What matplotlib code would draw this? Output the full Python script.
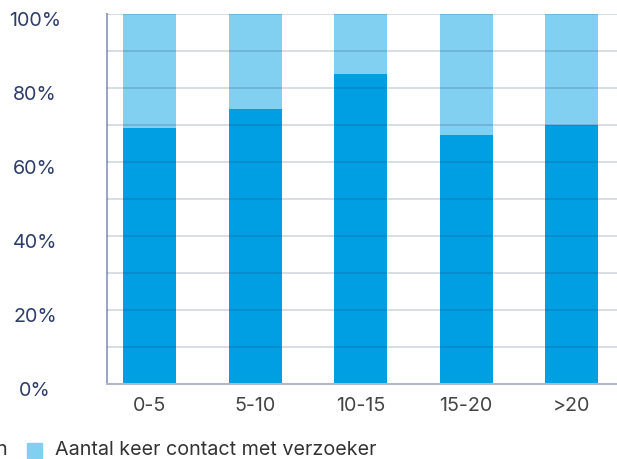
import matplotlib
matplotlib.use("Agg")
import matplotlib.pyplot as plt
import matplotlib.transforms as mtransforms
from matplotlib.patches import Rectangle
import numpy as np

# Data
categories = ["0-5", "5-10", "10-15", "15-20", ">20"]
share_first = [69.3, 74.3, 83.8, 67.3, 69.9]
share_second = [100 - v for v in share_first]
series_names = ["Aantal keer contact met betrokkenen", "Aantal keer contact met verzoeker"]
y_ticks = [0, 20, 40, 60, 80, 100]
y_tick_labels = ["0%", "20%", "40%", "60%", "80%", "100%"]

dark_blue = "#009fe3"
light_blue = "#82d0f1"

plt.rcParams["font.family"] = ["Inter", "DejaVu Sans"]
FS = 14.2

fig = plt.figure(figsize=(6.17, 4.59), dpi=100)
ax = fig.add_axes([106.7 / 617, 1 - 384 / 459, 1 - 106.7 / 617, (384 - 14) / 459])

x = np.arange(len(categories))
ax.bar(x, share_first, width=0.5, color=dark_blue, zorder=1)
ax.bar(x, share_second, width=0.5, bottom=share_first, color=light_blue, zorder=1)

# horizontal grid drawn over the bars
for g in range(0, 101, 10):
    ax.axhline(g, color="#1f3864", alpha=0.2, lw=1.2, zorder=3)

ax.set_xlim(-0.408, 4.43)
ax.set_ylim(0, 100)

ax.set_xticks(x)
ax.set_xticklabels(categories, fontsize=FS, color="#444444")
ax.set_yticks(y_ticks)
ax.set_yticklabels(y_tick_labels, fontsize=FS, color="#2d3e6b")
ax.tick_params(axis="both", length=0)
ax.tick_params(axis="x", pad=9.5)
ax.tick_params(axis="y", pad=51.6)
offset = mtransforms.ScaledTranslation(0, -5 / 100, fig.dpi_scale_trans)
for lbl in ax.get_yticklabels():
    lbl.set_ha("center")
    lbl.set_transform(lbl.get_transform() + offset)

for side in ["top", "right"]:
    ax.spines[side].set_visible(False)
ax.spines["left"].set_color("#9aa8c4")
ax.spines["left"].set_linewidth(1.5)
ax.spines["bottom"].set_color("#b0b8c8")
ax.spines["bottom"].set_linewidth(1.5)
ax.spines["bottom"].set_zorder(4)

# legend along the bottom edge
leg_y = 1 - 450 / 459
fig.text(8 / 617, leg_y, series_names[0], ha="right", va="center",
         fontsize=FS, color="#333333")
fig.patches.append(Rectangle((-40 / 617, leg_y - 7.5 / 459), 15 / 617, 15 / 459,
                             transform=fig.transFigure, color=dark_blue, figure=fig))
fig.patches.append(Rectangle((27 / 617, leg_y - 7.5 / 459), 15 / 617, 15 / 459,
                             transform=fig.transFigure, color=light_blue, figure=fig))
fig.text(55 / 617, leg_y, series_names[1], ha="left", va="center",
         fontsize=FS, color="#333333")

fig.savefig("out.png", dpi=100)
